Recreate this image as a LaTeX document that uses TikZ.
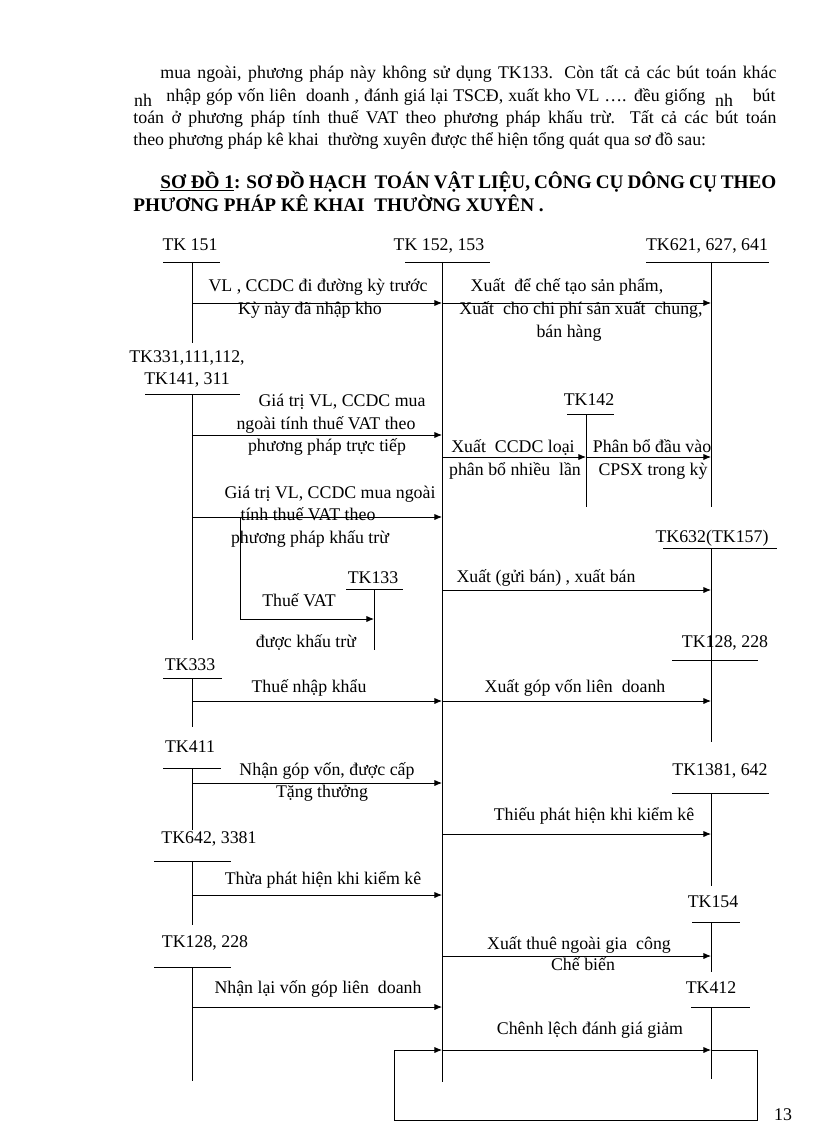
\documentclass[tikz,border=0pt]{standalone}
\usepackage{fontspec}
\setmainfont{Liberation Serif}
\usetikzlibrary{arrows.meta}

\begin{document}
\begin{tikzpicture}[x=0.7292pt, y=-0.7292pt, line width=0.6pt, font=\fontsize{13}{16}\selectfont]
\tikzstyle{txt} = [inner sep=0pt, anchor=west, text height=9pt, text depth=3pt]
\tikzstyle{acct} = [inner sep=0pt, text height=9pt, text depth=3pt]
\tikzstyle{lbl} = [inner sep=0pt, text height=9pt, text depth=3pt]
\tikzstyle{line} = [draw, -{Latex[length=5.5pt,width=4.5pt]}]

\useasboundingbox (0,0) rectangle (816,1123);

% text above the diagram
\node[txt] (p1) at (160,74) {\makebox[449.2pt][s]{mua ngoài, phương pháp này không sử dụng TK133.  Còn tất cả các bút toán khác}};
\node[lbl] (p2a) at (143,102) {nh};
\node[txt] (p2) at (166,97) {\makebox[393pt][s]{nhập góp vốn liên\ \ doanh , đánh giá lại TSCĐ, xuất kho VL …. đều giống}};
\node[lbl] (p2b) at (724,102) {nh};
\node[txt, anchor=east] (p2c) at (776,97) {bút};
\node[txt] (p3) at (133,119) {\makebox[468.9pt][s]{toán ở phương pháp tính thuế VAT theo phương pháp khấu trừ. Tất cả các bút toán}};
\node[txt] (p4) at (133,141) {theo phương pháp kê khai\ \ thường xuyên được thể hiện tổng quát qua sơ đồ sau:};

\node[txt, font=\fontsize{14}{16}\selectfont\bfseries] (title1) at (160,184) {\makebox[449.2pt][s]{\underline{SƠ ĐỒ 1}: SƠ ĐỒ HẠCH\ \ TOÁN VẬT LIỆU, CÔNG CỤ DÔNG CỤ THEO}};
\node[txt, font=\fontsize{14}{16}\selectfont\bfseries] (title2) at (133,207) {PHƯƠNG PHÁP KÊ KHAI\ \ THƯỜNG XUYÊN .};

% accounts
\node[acct] (tk151) at (190,246) {TK 151};
\draw (163,262) -- (220,262) (192,262) coordinate (tk151t) -- (192,343) coordinate (tk151b);
\node[acct] (tk152) at (439,246) {TK 152, 153};
\draw (405,262) -- (490,262) (442,262) coordinate (tk152t) -- (442,1082) coordinate (tk152b);
\node[acct] (tk621) at (707,246) {TK621, 627, 641};
\draw (646,262) -- (769,262) (711,262) coordinate (tk621t) -- (711,507) coordinate (tk621b);
\node[inner sep=0pt, align=center] (tk331) at (187,369) {TK331,111,112,\\TK141, 311};
\draw (145,394) -- (240,394) (192,394) coordinate (tk331t) -- (192,640) coordinate (tk331b);
\node[acct] (tk142) at (589,401) {TK142};
\draw (567,414) -- (614,414) (586,414) coordinate (tk142t) -- (586,507) coordinate (tk142b);
\node[acct] (tk632) at (712,538) {TK632(TK157)};
\draw (663,548) -- (777,548) (711,548) coordinate (tk632t) -- (711,705) coordinate (tk632b);
\node[acct] (tk133) at (373,579) {TK133};
\draw (346,589) -- (403,589) (374,589) coordinate (tk133t) -- (374,650) coordinate (tk133b);
\node[acct] (tk128r) at (725,643) {TK128, 228};
\draw (672,660) -- (758,660) (711,660) coordinate (tk128rt) -- (711,742) coordinate (tk128rb);
\node[acct] (tk333) at (190,666) {TK333};
\draw (163,678) -- (222,678) (192,678) coordinate (tk333t) -- (192,727) coordinate (tk333b);
\node[acct] (tk411) at (190,748) {TK411};
\draw (163,768) -- (221,768) (192,768) coordinate (tk411t) -- (192,830) coordinate (tk411b);
\node[acct] (tk1381) at (720,771) {TK1381, 642};
\draw (672,793) -- (769,793) (711,793) coordinate (tk1381t) -- (711,886) coordinate (tk1381b);
\node[acct] (tk642) at (209,839) {TK642, 3381};
\draw (154,861) -- (231,861) (192,861) coordinate (tk642t) -- (192,925) coordinate (tk642b);
\node[acct] (tk154) at (713,903) {TK154};
\draw (692,922) -- (740,922) (711,922) coordinate (tk154t) -- (711,972) coordinate (tk154b);
\node[acct] (tk128l) at (205,943) {TK128, 228};
\draw (154,967) -- (231,967) (192,967) coordinate (tk128lt) -- (192,1081) coordinate (tk128lb);
\node[acct] (tk412) at (711,989) {TK412};
\draw (691,1007) -- (750,1007) (711,1007) coordinate (tk412t) -- (711,1079) coordinate (tk412b);

% rows of the entries
\coordinate (r1) at (0,303);
\coordinate (r3) at (0,435);
\coordinate (r4) at (0,457);
\coordinate (r6) at (0,517);
\coordinate (r7) at (0,590);
\coordinate (rvat) at (0,619);
\coordinate (r8) at (0,701);
\coordinate (r10) at (0,783);
\coordinate (r11) at (0,834);
\coordinate (r12) at (0,895);
\coordinate (r13) at (0,956);
\coordinate (r14) at (0,1007);
\coordinate (r15) at (0,1050);
\coordinate (br) at (240,517);
\coordinate (loopr) at (757,1120);
\coordinate (loopl) at (394,1120);

\path [line] (tk151t |- r1) -- (tk152t |- r1);
\path [line] (tk152t |- r1) -- (tk621t |- r1);
\path [line] (tk331t |- r3) -- (tk152t |- r3);
\path [line] (tk152t |- r4) -- (tk142t |- r4);
\path [line] (tk142t |- r4) -- (tk621t |- r4);
\path [line] (tk331t |- r6) -- (tk152t |- r6);
\path [line] (br) |- (tk133t |- rvat);
\path [line] (tk152t |- r7) -- (tk632t |- r7);
\path [line] (tk333t |- r8) -- (tk152t |- r8);
\path [line] (tk152t |- r8) -- (tk128rt |- r8);
\path [line] (tk411t |- r10) -- (tk152t |- r10);
\path [line] (tk152t |- r11) -- (tk1381t |- r11);
\path [line] (tk642t |- r12) -- (tk152t |- r12);
\path [line] (tk152t |- r13) -- (tk154t |- r13);
\path [line] (tk128lt |- r14) -- (tk152t |- r14);
\path [line] (tk152t |- r15) -- (tk412t |- r15);
\path [line] (tk412t |- r15) -| (loopr) -- (loopl) |- (tk152t |- r15);

% labels of the entries
\node[lbl] (l1a) at (318,287) {VL , CCDC đi đường kỳ trước};
\node[lbl] (l1b) at (310,310) {Kỳ này đã nhập kho};
\node[lbl] (l2a) at (567,287) {Xuất\ \ để chế tạo sản phẩm,};
\node[lbl] (l2b) at (581,310) {Xuất\ \ cho chi phí sản xuất\ \ chung,};
\node[lbl] (l2c) at (569,333) {bán hàng};
\node[lbl] (l3a) at (342,402) {Giá trị VL, CCDC mua};
\node[lbl] (l3b) at (326,425) {ngoài tính thuế VAT theo};
\node[lbl] (l3c) at (327,447) {phương pháp trực tiếp};
\node[lbl] (l4a) at (513,448) {Xuất\ \ CCDC loại};
\node[lbl] (l4b) at (515,471) {phân bổ nhiều\ \ lần};
\node[lbl] (l5a) at (652,448) {Phân bổ đầu vào};
\node[lbl] (l5b) at (653,471) {CPSX trong kỳ};
\node[lbl] (l6a) at (330,494) {Giá trị VL, CCDC mua ngoài};
\node[lbl] (l6b) at (308,516) {tính thuế VAT theo};
\node[lbl] (l6c) at (310,539) {phương pháp khấu trừ};
\node[lbl] (l7) at (546,578) {Xuất (gửi bán) , xuất bán};
\node[lbl] (lvat) at (299,602) {Thuế VAT};
\node[lbl] (lvatb) at (306,643) {được khấu trừ};
\node[lbl] (l8a) at (309,688) {Thuế nhập khẩu};
\node[lbl] (l8b) at (575,688) {Xuất góp vốn liên\ \ doanh};
\node[lbl] (l10a) at (327,771) {Nhận góp vốn, được cấp};
\node[lbl] (l10b) at (322,793) {Tặng thưởng};
\node[lbl] (l11) at (594,816) {Thiếu phát hiện khi kiểm kê};
\node[lbl] (l12) at (323,880) {Thừa phát hiện khi kiểm kê};
\node[lbl] (l13a) at (579,945) {Xuất thuê ngoài gia\ \ công};
\node[lbl] (l13b) at (583,966) {Chế biến};
\node[lbl] (l14) at (318,989) {Nhận lại vốn góp liên\ \ doanh};
\node[lbl] (l15) at (590,1030) {Chênh lệch đánh giá giảm};

\node[lbl] (pg) at (783,1116) {13};
\end{tikzpicture}
\end{document}
